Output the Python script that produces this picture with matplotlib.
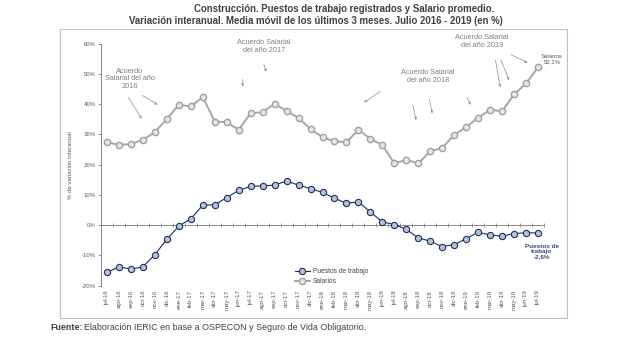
import matplotlib
matplotlib.use('Agg')
import matplotlib.pyplot as plt
from matplotlib.patches import Rectangle, FancyArrowPatch
import numpy as np

plt.rcParams['font.family'] = ['Liberation Sans', 'DejaVu Sans']

meses = ['jul-16', 'ago-16', 'sep-16', 'oct-16', 'nov-16', 'dic-16',
         'ene-17', 'feb-17', 'mar-17', 'abr-17', 'may-17', 'jun-17',
         'jul-17', 'ago-17', 'sep-17', 'oct-17', 'nov-17', 'dic-17',
         'ene-18', 'feb-18', 'mar-18', 'abr-18', 'may-18', 'jun-18',
         'jul-18', 'ago-18', 'sep-18', 'oct-18', 'nov-18', 'dic-18',
         'ene-19', 'feb-19', 'mar-19', 'abr-19', 'may-19', 'jun-19', 'jul-19']
puestos = [-15.6, -13.8, -14.5, -13.8, -9.7, -4.7, -0.3, 2.1, 6.6, 6.7, 9.1, 11.5,
           12.8, 13.0, 13.2, 14.6, 13.2, 12.1, 10.8, 8.9, 7.2, 7.7, 4.3, 1.1,
           0.2, -1.4, -4.2, -5.3, -7.1, -6.4, -4.5, -2.3, -3.3, -3.6, -2.8, -2.5, -2.6]
salarios = [27.4, 26.5, 26.8, 28.2, 30.7, 35.1, 39.8, 39.2, 42.3, 34.2, 34.0, 31.5,
            37.0, 37.3, 40.1, 37.7, 35.4, 31.8, 29.0, 27.7, 27.4, 31.5, 28.5, 26.5,
            20.4, 21.6, 20.4, 24.4, 25.5, 29.8, 32.4, 35.5, 38.1, 37.6, 43.2, 46.8, 52.1]
y_ticks = [-20, -10, 0, 10, 20, 30, 40, 50, 60]

W, H = 640, 338
GRAY_TXT = '#7f7f7f'
NAVY = '#1f2f5a'


def fx(px):
    return px / W


def fy(py):
    return 1 - py / H


fig = plt.figure(figsize=(6.4, 3.38), dpi=100)
ax = fig.add_axes([fx(101), fy(285.7), fx(544) - fx(101), fy(43.5) - fy(285.7)])

x = np.arange(len(meses))
l_sal, = ax.plot(x, salarios, color='#a6a6a6', lw=1.4, marker='o', ms=4.5,
                 mfc='#e6e6e6', mec='#a0a0a0', mew=1.0, label='Salarios', zorder=3)
l_pue, = ax.plot(x, puestos, color=NAVY, lw=0.8, marker='o', ms=4.5,
                 mfc='#b4c2da', mec=NAVY, mew=0.8, label='Puestos de trabajo', zorder=4)

ax.set_xlim(-0.5, len(meses) - 0.5)
ax.set_ylim(-20, 60)
ax.set_yticks(y_ticks)
ax.set_yticklabels([f'{v}%' for v in y_ticks])
ax.set_xticks(x)
ax.set_xticklabels(meses, rotation=90)
ax.tick_params(axis='x', length=0, pad=3, labelsize=4.3, labelcolor='#595959')
ax.tick_params(axis='y', length=2, width=0.6, color='#868686', pad=2,
               labelsize=4.3, labelcolor='#595959')
for side in ['top', 'right', 'bottom']:
    ax.spines[side].set_visible(False)
ax.spines['left'].set_color('#868686')
ax.spines['left'].set_linewidth(0.7)
ax.set_ylabel('% de variación interanual', fontsize=4.3, color='#595959', labelpad=6)

# eje de categorías cruzando en 0%
sec = ax.secondary_xaxis(0.25)
sec.set_xticks(np.arange(-0.5, len(meses), 1))
sec.tick_params(length=3, width=0.6, direction='inout', color='#868686', labelbottom=False)
sec.spines['bottom'].set_color('#868686')
sec.spines['bottom'].set_linewidth(0.7)

fig.legend(handles=[l_pue, l_sal], loc='upper left', bbox_to_anchor=(fx(289), fy(262)),
           frameon=False, fontsize=4.8, handlelength=2.2, labelspacing=0.5,
           handletextpad=0.5, labelcolor='#404040')

# marco
fig.patches.append(Rectangle((fx(60), fy(318)), fx(567) - fx(60), fy(29.5) - fy(318),
                             transform=fig.transFigure, fill=False, ec='#bfbfbf', lw=0.8))

fig.text(fx(344), fy(9), 'Construcción. Puestos de trabajo registrados y Salario promedio.',
         ha='center', va='center', fontsize=6.9, fontweight='bold', color='#404040')
fig.text(fx(316), fy(20.7), 'Variación interanual. Media móvil de los últimos 3 meses. Julio 2016 - 2019 (en %)',
         ha='center', va='center', fontsize=6.9, fontweight='bold', color='#404040')
fig.text(fx(50), fy(327), 'Fuente:', ha='left', va='center', fontsize=6.4,
         fontweight='bold', color='#404040')
fig.text(fx(84), fy(327), 'Elaboración IERIC en base a OSPECON y Seguro de Vida Obligatorio.',
         ha='left', va='center', fontsize=6.4, color='#404040')

# anotaciones
ann_kw = dict(ha='center', va='center', fontsize=5.3, color=GRAY_TXT, linespacing=1.05)
fig.text(fx(130), fy(79), 'Acuerdo\nSalarial del año\n2016', **ann_kw)
fig.text(fx(264), fy(46.5), 'Acuerdo Salarial\ndel año 2017', **ann_kw)
fig.text(fx(428), fy(76.5), 'Acuerdo Salarial\ndel año 2018', **ann_kw)
fig.text(fx(482), fy(41.5), 'Acuerdo Salarial\ndel año 2019', **ann_kw)
fig.text(fx(552), fy(59), 'Salarios\n52,1%', ha='center', va='center', fontsize=4.3,
         color='#595959', linespacing=1.05)
fig.text(fx(542), fy(251.7), 'Puestos de\ntrabajo\n-2,6%', ha='center', va='center',
         fontsize=4.6, fontweight='bold', color='#3b4b7e', linespacing=1.0)

flechas = [((127, 95), (143, 121)), ((140, 94), (160, 106)),
           ((242.7, 76.7), (242.7, 89.3)), ((263, 61.7), (267, 74.3)),
           ((382.7, 90), (361.7, 104)), ((412.3, 102.7), (416.7, 122.7)),
           ((429, 96.7), (432.7, 116)), ((466, 95), (471.7, 107.3)),
           ((495, 57.3), (500.7, 90)), ((500, 57.3), (510, 82.7)),
           ((508.3, 53.3), (530, 64))]
for (x0, y0), (x1, y1) in flechas:
    fig.add_artist(FancyArrowPatch(
        (fx(x0), fy(y0)), (fx(x1), fy(y1)), transform=fig.transFigure,
        arrowstyle='->', mutation_scale=4, color='#8c8c8c', lw=0.5))

fig.savefig('out.png', dpi=100)
